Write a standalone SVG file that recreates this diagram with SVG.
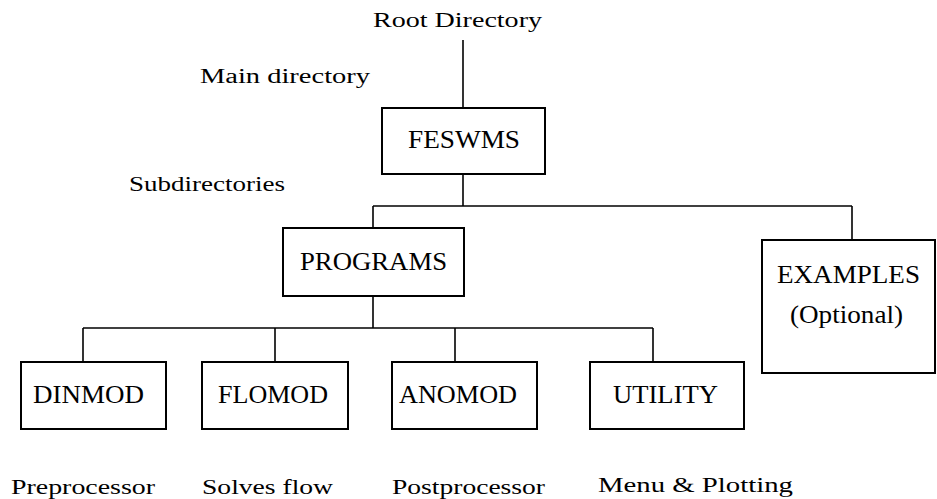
<svg xmlns="http://www.w3.org/2000/svg" width="937" height="499" viewBox="0 0 937 499">
<style>
  .box { fill: #fff; stroke: #000; stroke-width: 2; }
  .ln { stroke: #000; stroke-width: 1.6; fill: none; }
  .t { font-family: "Liberation Serif", "Times New Roman", serif; fill: #000; }
  .lbl { font-size: 20px; }
  .nd { font-size: 26px; }
</style>
<rect width="937" height="499" fill="#fff"/>
<g id="connectors">
  <line class="ln" x1="463" y1="40" x2="463" y2="108"/>
  <line class="ln" x1="463" y1="174" x2="463" y2="206"/>
  <line class="ln" x1="373" y1="206" x2="852" y2="206"/>
  <line class="ln" x1="373" y1="206" x2="373" y2="228"/>
  <line class="ln" x1="852" y1="206" x2="852" y2="240"/>
  <line class="ln" x1="373" y1="296" x2="373" y2="328"/>
  <line class="ln" x1="83" y1="328" x2="653" y2="328"/>
  <line class="ln" x1="83" y1="328" x2="83" y2="362"/>
  <line class="ln" x1="275" y1="328" x2="275" y2="362"/>
  <line class="ln" x1="455" y1="328" x2="455" y2="362"/>
  <line class="ln" x1="653" y1="328" x2="653" y2="362"/>
</g>
<g id="labels">
  <text class="t lbl" x="373" y="27" textLength="169" lengthAdjust="spacingAndGlyphs">Root Directory</text>
  <text class="t lbl" x="200" y="83" textLength="170" lengthAdjust="spacingAndGlyphs">Main directory</text>
  <text class="t lbl" x="129" y="191" textLength="156" lengthAdjust="spacingAndGlyphs">Subdirectories</text>
  <text class="t lbl" x="11" y="494" textLength="144" lengthAdjust="spacingAndGlyphs">Preprocessor</text>
  <text class="t lbl" x="202" y="494" textLength="131" lengthAdjust="spacingAndGlyphs">Solves flow</text>
  <text class="t lbl" x="392" y="494" textLength="153" lengthAdjust="spacingAndGlyphs">Postprocessor</text>
  <text class="t lbl" x="598" y="492" textLength="195" lengthAdjust="spacingAndGlyphs">Menu &amp; Plotting</text>
</g>
<g id="feswms">
  <rect class="box" x="382" y="108" width="163" height="66"/>
  <text class="t nd" x="408" y="148" textLength="112" lengthAdjust="spacingAndGlyphs">FESWMS</text>
</g>
<g id="programs">
  <rect class="box" x="283" y="228" width="181" height="68"/>
  <text class="t nd" x="300" y="270" textLength="147" lengthAdjust="spacingAndGlyphs">PROGRAMS</text>
</g>
<g id="examples">
  <rect class="box" x="762" y="240" width="173" height="133"/>
  <text class="t nd" x="777" y="283" textLength="143" lengthAdjust="spacingAndGlyphs">EXAMPLES</text>
  <text class="t nd" x="790" y="323" textLength="113" lengthAdjust="spacingAndGlyphs">(Optional)</text>
</g>
<g id="dinmod">
  <rect class="box" x="21" y="362" width="145" height="67"/>
  <text class="t nd" x="33" y="403" textLength="111" lengthAdjust="spacingAndGlyphs">DINMOD</text>
</g>
<g id="flomod">
  <rect class="box" x="202" y="362" width="146" height="67"/>
  <text class="t nd" x="218" y="403" textLength="110" lengthAdjust="spacingAndGlyphs">FLOMOD</text>
</g>
<g id="anomod">
  <rect class="box" x="392" y="362" width="145" height="67"/>
  <text class="t nd" x="399" y="403" textLength="118" lengthAdjust="spacingAndGlyphs">ANOMOD</text>
</g>
<g id="utility">
  <rect class="box" x="590" y="362" width="154" height="67"/>
  <text class="t nd" x="613" y="403" textLength="105" lengthAdjust="spacingAndGlyphs">UTILITY</text>
</g>
</svg>
